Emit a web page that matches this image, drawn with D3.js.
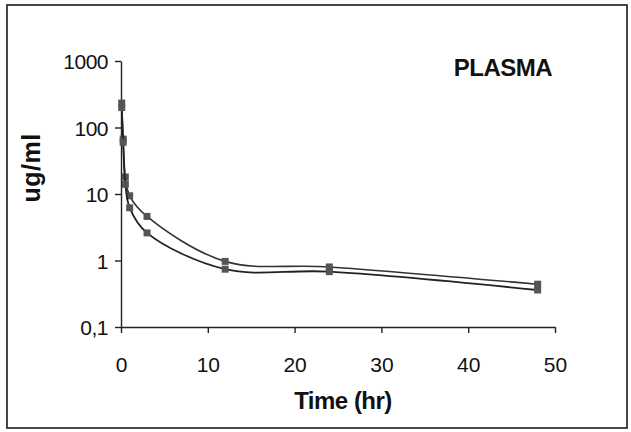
<!DOCTYPE html>
<html>
<head>
<meta charset="utf-8">
<script src="https://cdn.jsdelivr.net/npm/d3@7"></script>
<style>
  body { margin: 0; background: #fff; }
  text { font-family: "Liberation Sans", Arial, sans-serif; fill: #111; }
</style>
</head>
<body>
<svg id="chart"></svg>
<script>
// Data
const times = [0.083, 0.25, 0.5, 1, 3, 12, 24, 48];
const upperSeries = [233, 67, 18, 9.4, 4.6, 0.97, 0.8, 0.44];
const lowerSeries = [200, 60, 14, 6.2, 2.6, 0.74, 0.68, 0.36];
const xTicks = [0, 10, 20, 30, 40, 50];
const yTicks = [0.1, 1, 10, 100, 1000];
const yTickLabels = ["0,1", "1", "10", "100", "1000"];

const W = 631, H = 432;
const margin = { top: 61, right: 76, bottom: 105, left: 121 };
const width = W - margin.left - margin.right;
const height = H - margin.top - margin.bottom;

const root = d3.select("#chart").attr("width", W).attr("height", H);

// outer frame
root.append("rect")
  .attr("x", 7).attr("y", 5)
  .attr("width", 620).attr("height", 423)
  .attr("fill", "none")
  .attr("stroke", "#333")
  .attr("stroke-width", 1.8);

const svg = root.append("g")
  .attr("transform", "translate(" + margin.left + "," + margin.top + ")");

const xScale = d3.scaleLinear().domain([0, 50]).range([0, width]);
const yScale = d3.scaleLog().domain([0.1, 1000]).range([height, 0]);

// x axis
const xAxis = svg.append("g")
  .attr("transform", "translate(0," + height + ")")
  .call(d3.axisBottom(xScale).tickValues(xTicks).tickSize(6).tickPadding(24).tickSizeOuter(0));
xAxis.selectAll("text").style("font-size", "21px").attr("dy", "0.71em");

// y axis
const yAxis = svg.append("g")
  .call(d3.axisLeft(yScale).tickValues(yTicks)
    .tickFormat((d, i) => yTickLabels[i]).tickSize(6).tickPadding(7).tickSizeOuter(0));
yAxis.selectAll("text").style("font-size", "21px").style("letter-spacing", "-0.5px").attr("dy", "0.36em");

svg.selectAll(".domain, .tick line").attr("stroke", "#222").attr("stroke-width", 1.4);

// lines
const line = d3.line()
  .x((d) => xScale(d[0]))
  .y((d) => yScale(d[1]))
  .curve(d3.curveCatmullRom.alpha(0.5));

const series = [
  { values: upperSeries, color: "#333", width: 1.6 },
  { values: lowerSeries, color: "#222", width: 1.8 }
];

series.forEach((s) => {
  const pts = times.map((t, i) => [t, s.values[i]]);
  svg.append("path")
    .datum(pts)
    .attr("fill", "none")
    .attr("stroke", s.color)
    .attr("stroke-width", s.width)
    .attr("d", line);
  svg.selectAll(null)
    .data(pts)
    .enter()
    .append("rect")
    .attr("x", (d) => xScale(d[0]) - 3.5)
    .attr("y", (d) => yScale(d[1]) - 3.5)
    .attr("width", 7)
    .attr("height", 7)
    .attr("fill", "#555");
});

// labels
svg.append("text")
  .attr("x", 382).attr("y", 15)
  .attr("text-anchor", "middle")
  .style("font-size", "24px").style("font-weight", "bold")
  .style("letter-spacing", "-0.5px")
  .text("PLASMA");

svg.append("text")
  .attr("x", 222).attr("y", 348)
  .attr("text-anchor", "middle")
  .style("font-size", "24px").style("font-weight", "bold")
  .style("letter-spacing", "-0.5px")
  .text("Time (hr)");

svg.append("text")
  .attr("transform", "translate(-81,107) rotate(-90)")
  .attr("text-anchor", "middle")
  .style("font-size", "25px").style("font-weight", "bold")
  .style("letter-spacing", "0.5px")
  .text("ug/ml");
</script>
</body>
</html>
